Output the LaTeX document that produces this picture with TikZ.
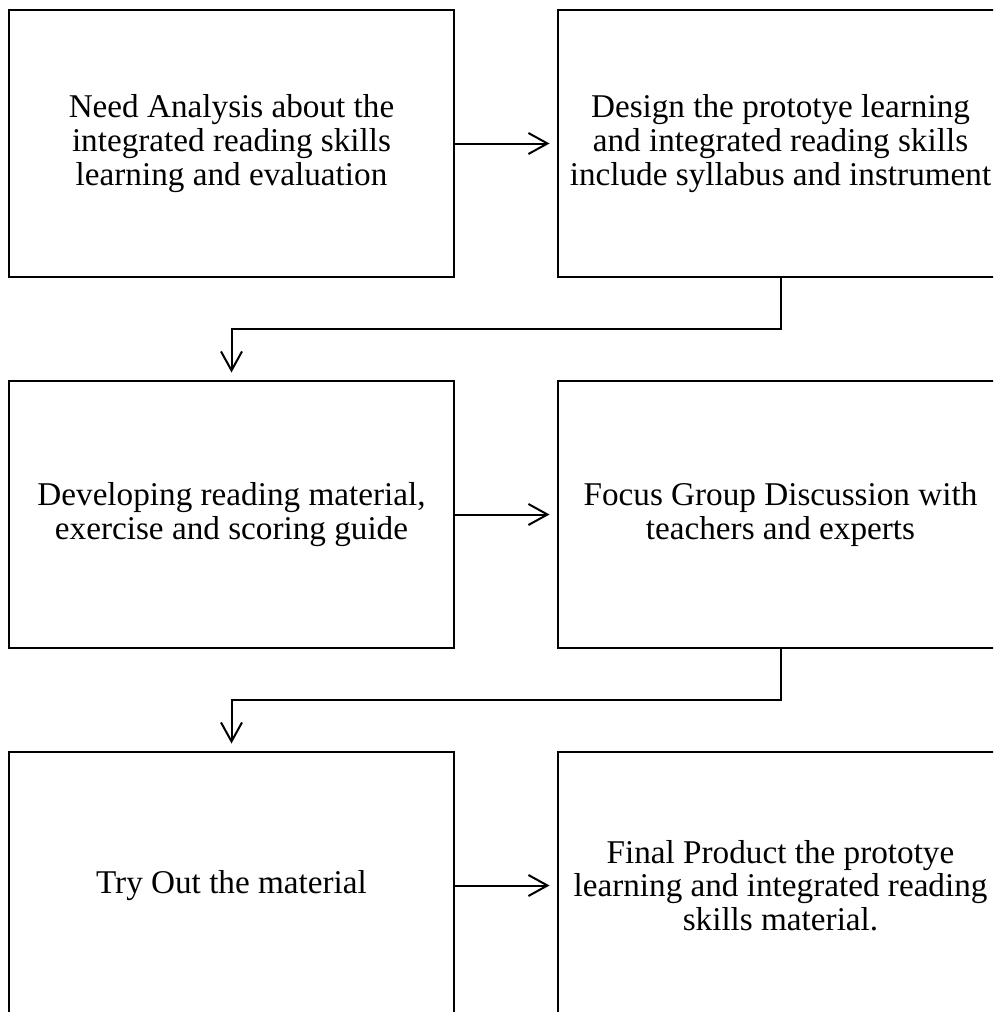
\documentclass[tikz,border=0pt]{standalone}
\usepackage{fontspec}
\setmainfont{Liberation Serif}
\usepackage{tikz}
\usetikzlibrary{arrows.meta,positioning}

\begin{document}
\begin{tikzpicture}[->,>={Straight Barb[length=9.5pt,width=10.5pt]},shorten >=3.75pt,
                    x=0.5pt,y=0.5pt,node distance=51pt,line width=1pt]
  \tikzstyle{stage}=[draw,line width=1pt,minimum width=222.5pt,minimum height=133.5pt,
                     inner sep=0pt,align=center,font=\fontsize{16.6}{16.8}\selectfont]

  \useasboundingbox (0,0) rectangle (993,-1012);
  \clip (0,0) rectangle (993,-1012);

  \node[stage] (A) at (231.5,-143.5) {Need Analysis about the\\integrated reading skills\\learning and evaluation};
  \node[stage]         (B) [right=of A] {Design the prototye learning\\and integrated reading skills\\include syllabus and instrument};
  \node[stage]         (C) [below=of A] {Developing reading material,\\exercise and scoring guide};
  \node[stage]         (D) [right=of C] {Focus Group Discussion with\\teachers and experts};
  \node[stage]         (E) [below=of C] {Try Out the material};
  \node[stage]         (F) [right=of E] {Final Product the prototye\\learning and integrated reading\\skills material.};

  \path (A) edge (B)
        (C) edge (D)
        (E) edge (F);
  \draw (B.south) -- ++(0,-51) -| (C.north);
  \draw (D.south) -- ++(0,-51) -| (E.north);
\end{tikzpicture}
\end{document}
